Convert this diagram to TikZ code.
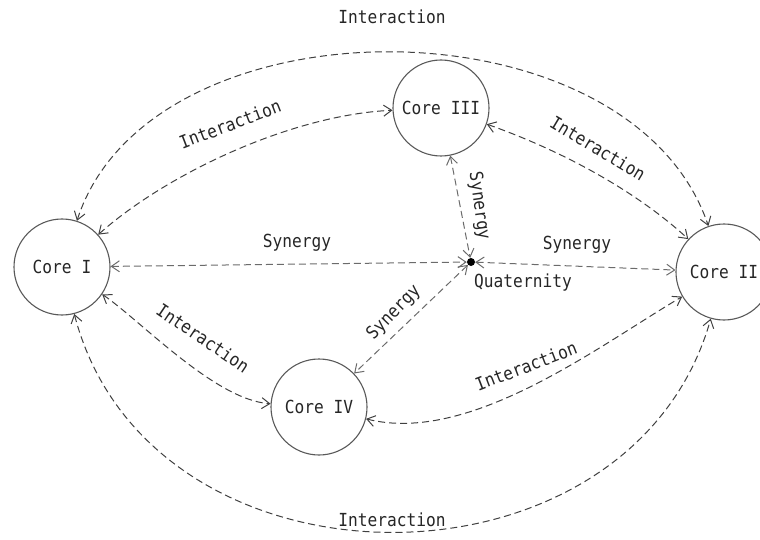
\documentclass[tikz,border=0pt]{standalone}
\usepackage{fontspec}
\newfontfamily\lblfont[FakeStretch=0.9]{DejaVu Sans Mono}
\usetikzlibrary{arrows.meta}
\begin{document}
\begin{tikzpicture}[x=1pt,y=-1pt,
  core/.style={circle,draw=black!65,line width=1.1pt,minimum size=96pt,inner sep=0pt,
    font=\lblfont\fontsize{18}{20}\selectfont,text=black!85},
  lbl/.style={font=\lblfont\fontsize{18}{20}\selectfont,text=black!85,inner sep=1pt},
  tipb/.style={{Straight Barb[length=8pt,width=11pt]}-{Straight Barb[length=8pt,width=11pt]}},
  inter/.style={tipb,dash pattern=on 7pt off 4pt,line width=1pt,draw=black!75},
  syn/.style={tipb,dash pattern=on 7pt off 4pt,line width=1pt,draw=black!58}]
\useasboundingbox (0,0) rectangle (760,540);
\node[core] (c1) at (62,267) {Core I};
\node[core] (c3) at (441,108) {Core III};
\node[core] (c2) at (724,272) {Core II};
\node[core] (c4) at (319,407) {Core IV};
\node[circle,fill=black,minimum size=8pt,inner sep=0pt] (q) at (471,262) {};
% interactions
\draw[inter] (c1) .. controls (150,-5) and (630,-5) .. (c2);
\draw[inter] (c1) .. controls (150,604) and (630,604) .. (c2);
\draw[inter] (c1) .. controls (165,175) and (290,115) .. (c3);
\draw[inter] (c3) .. controls (560,150) and (635,190) .. (c2);
\draw[inter] (c1) .. controls (140,320) and (215,400) .. (c4);
\draw[inter] (c4) .. controls (470,445) and (600,345) .. (c2);
% synergies
\draw[syn] (c1) -- (q);
\draw[syn] (q) -- (c2);
\draw[syn] (c3) -- (q);
\draw[syn] (q) -- (c4);
% labels
\node[lbl] (lt) at (392,17) {Interaction};
\node[lbl] (lb) at (392,520) {Interaction};
\node[lbl,rotate=21] (l13) at (230,124) {Interaction};
\node[lbl,rotate=-31] (l32) at (598,148) {Interaction};
\node[lbl,rotate=-34] (l14) at (203,338) {Interaction};
\node[lbl,rotate=21] (l42) at (526,366) {Interaction};
\node[lbl] (s1) at (297,243) {Synergy};
\node[lbl] (s2) at (577,245) {Synergy};
\node[lbl,rotate=-82] (s3) at (479,206) {Synergy};
\node[lbl,rotate=46] (s4) at (394,313) {Synergy};
\node[lbl] (ql) at (523,283) {Quaternity};
\end{tikzpicture}
\end{document}
